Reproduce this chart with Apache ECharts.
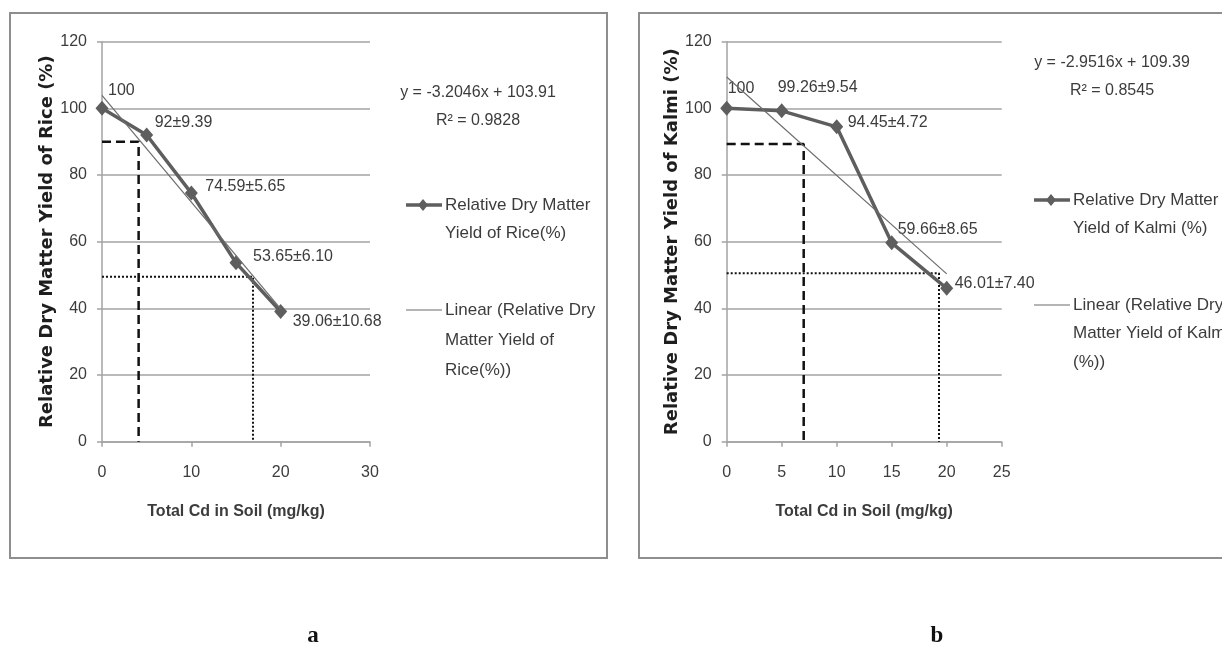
<!DOCTYPE html>
<html>
<head>
<meta charset="utf-8">
<script src="https://cdn.jsdelivr.net/npm/echarts@6/dist/echarts.min.js"></script>
<style>
  html, body { margin: 0; padding: 0; background: #ffffff; }
  #chart { width: 1222px; height: 652px; }
</style>
</head>
<body>
<div id="chart"></div>
<script>
// Total Cd added to soil (mg/kg)
const cdLevels = [0, 5, 10, 15, 20];

// Relative dry matter yield (%) and its standard deviation
const riceYield = [100, 92, 74.59, 53.65, 39.06];
const riceSD = ['', '9.39', '5.65', '6.10', '10.68'];
const kalmiYield = [100, 99.26, 94.45, 59.66, 46.01];
const kalmiSD = ['', '9.54', '4.72', '8.65', '7.40'];

// Linear trend: [slope, intercept, R²]
const riceTrend = [-3.2046, 103.91, 0.9828];
const kalmiTrend = [-2.9516, 109.39, 0.8545];

// Guide lines marking the Cd level at ~90 % and ~50 % yield: [Cd, yield]
const riceDashed = [4.1, 90];
const riceDotted = [16.9, 49.5];
const kalmiDashed = [7, 89.3];
const kalmiDotted = [19.3, 50.5];

// Axis ticks
const yTicks = [0, 20, 40, 60, 80, 100, 120];
const riceXTicks = [0, 10, 20, 30];
const kalmiXTicks = [0, 5, 10, 15, 20, 25];

// Legend / title texts
const riceLegend = ['Relative Dry Matter', 'Yield of Rice(%)'];
const riceTrendLegend = ['Linear (Relative Dry', 'Matter Yield of', 'Rice(%))'];
const kalmiLegend = ['Relative Dry Matter', 'Yield of Kalmi (%)'];
const kalmiTrendLegend = ['Linear (Relative Dry', 'Matter Yield of Kalmi', '(%))'];
const riceYTitle = 'Relative Dry Matter Yield of Rice (%)';
const kalmiYTitle = 'Relative Dry Matter Yield of Kalmi (%)';
const xTitle = 'Total Cd in Soil (mg/kg)';
const panelLetters = ['a', 'b'];

// ---------- layout & style ----------
const SANS = '"Liberation Sans", Arial, sans-serif';
const TEXT = '#3c3c3c';
const LINE = '#5e5e5e';
const GRID_LINE = '#a3a3a3';

// label offsets from each marker centre [dx, dy]
const riceLabelOffsets = [[6, -18], [8, -12], [14, -6], [17, -6], [12, 10]];
const kalmiLabelOffsets = [[1, -20], [-4, -23], [11, -4], [6, -13], [8, -5]];

function fmtLabel(v, sd) {
  return sd ? String(v) + '±' + sd : String(v);
}

function xAxisFor(ticks, gridIndex) {
  return {
    type: 'value', gridIndex,
    min: ticks[0], max: ticks[ticks.length - 1], interval: ticks[1] - ticks[0],
    name: xTitle, nameLocation: 'middle', nameGap: 62,
    nameTextStyle: { fontFamily: SANS, fontWeight: 'bold', fontSize: 16, color: TEXT },
    axisLine: { show: true, lineStyle: { color: GRID_LINE, width: 1.5 } },
    axisTick: { show: true, length: 5, lineStyle: { color: GRID_LINE, width: 1.5 } },
    axisLabel: { fontFamily: SANS, fontSize: 16, color: TEXT, margin: 23 },
    splitLine: { show: false }
  };
}

function yAxisFor(title, gridIndex, gap) {
  return {
    type: 'value', gridIndex,
    min: yTicks[0], max: yTicks[yTicks.length - 1], interval: yTicks[1] - yTicks[0],
    name: title, nameLocation: 'middle', nameGap: gap,
    nameTextStyle: { fontFamily: '"DejaVu Sans", sans-serif', fontWeight: 'bold', fontSize: 18, color: '#1e1e1e' },
    axisLine: { show: true, lineStyle: { color: GRID_LINE, width: 1.5 } },
    axisTick: { show: true, length: 5, lineStyle: { color: GRID_LINE, width: 1.5 } },
    axisLabel: { fontFamily: SANS, fontSize: 16, color: TEXT, margin: 15 },
    splitLine: { show: true, lineStyle: { color: GRID_LINE, width: 1.5 } }
  };
}

function yieldSeries(values, sds, offsets, idx) {
  return {
    type: 'line', xAxisIndex: idx, yAxisIndex: idx, z: 5,
    data: cdLevels.map((x, i) => ({
      value: [x, values[i]],
      label: { offset: offsets[i] }
    })),
    symbol: 'diamond', symbolSize: [13, 15],
    lineStyle: { color: LINE, width: 3.5 },
    itemStyle: { color: LINE },
    label: {
      show: true, position: 'inside', align: 'left', verticalAlign: 'middle',
      fontFamily: SANS, fontSize: 16, color: TEXT,
      formatter: p => fmtLabel(values[p.dataIndex], sds[p.dataIndex])
    },
    animation: false
  };
}

function trendSeries(coef, idx) {
  const x0 = cdLevels[0], x1 = cdLevels[cdLevels.length - 1];
  return {
    type: 'line', xAxisIndex: idx, yAxisIndex: idx, z: 6,
    data: [[x0, coef[0] * x0 + coef[1]], [x1, coef[0] * x1 + coef[1]]],
    symbol: 'none',
    lineStyle: { color: '#6c6c6c', width: 1.2 },
    animation: false
  };
}

function guideSeries(pt, idx, dashType, width) {
  return {
    type: 'line', xAxisIndex: idx, yAxisIndex: idx, z: 4,
    data: [[0, pt[1]], [pt[0], pt[1]], [pt[0], 0]],
    symbol: 'none',
    lineStyle: { color: '#111111', width, type: dashType },
    animation: false
  };
}

function textEl(text, x, y, size, style) {
  return {
    type: 'text', silent: true,
    style: Object.assign({
      text, x, y, fill: TEXT,
      font: size + 'px ' + SANS,
      align: 'left', verticalAlign: 'middle'
    }, style || {})
  };
}

function legendEls(x, y, lines, withMarker, lineH) {
  const els = [];
  els.push({
    type: 'line', silent: true,
    shape: { x1: x, y1: y, x2: x + 36, y2: y },
    style: { stroke: withMarker ? LINE : '#6c6c6c', lineWidth: withMarker ? 3.5 : 1.2 }
  });
  if (withMarker) {
    const cx = x + 17;
    els.push({
      type: 'polygon', silent: true,
      shape: { points: [[cx, y - 6], [cx + 5, y], [cx, y + 6], [cx - 5, y]] },
      style: { fill: LINE }
    });
  }
  lines.forEach((t, i) => els.push(textEl(t, x + 39, y + i * lineH, 17)));
  return els;
}

function equationEls(coef, cx, y) {
  const eq = 'y = ' + coef[0] + 'x + ' + coef[1];
  const r2 = 'R² = ' + coef[2];
  return [
    textEl(eq, cx, y, 16, { align: 'center' }),
    textEl(r2, cx, y + 28, 16, { align: 'center' })
  ];
}

const letterFont = 'bold 23px "Liberation Serif", serif';

const graphics = [
  { type: 'rect', silent: true, shape: { x: 10, y: 13, width: 597, height: 545 },
    style: { fill: 'none', stroke: '#8e8e8e', lineWidth: 2 } },
  { type: 'rect', silent: true, shape: { x: 639, y: 13, width: 600, height: 545 },
    style: { fill: 'none', stroke: '#8e8e8e', lineWidth: 2 } },
  ...equationEls(riceTrend, 478, 93),
  ...equationEls(kalmiTrend, 1112, 63),
  ...legendEls(406, 205, riceLegend, true, 28),
  ...legendEls(406, 310, riceTrendLegend, false, 30),
  ...legendEls(1034, 200, kalmiLegend, true, 28),
  ...legendEls(1034, 305, kalmiTrendLegend, false, 28.5),
  textEl(panelLetters[0], 313, 636, 23, { align: 'center', fill: '#111', font: letterFont }),
  textEl(panelLetters[1], 937, 636, 23, { align: 'center', fill: '#111', font: letterFont })
];

const option = {
  backgroundColor: '#ffffff',
  animation: false,
  grid: [
    { left: 102, top: 41.7, width: 268, height: 400 },
    { left: 726.7, top: 41.7, width: 275, height: 400 }
  ],
  xAxis: [xAxisFor(riceXTicks, 0), xAxisFor(kalmiXTicks, 1)],
  yAxis: [yAxisFor(riceYTitle, 0, 44), yAxisFor(kalmiYTitle, 1, 32)],
  series: [
    guideSeries(riceDashed, 0, [9, 5], 2.5),
    guideSeries(riceDotted, 0, [2, 2], 2),
    yieldSeries(riceYield, riceSD, riceLabelOffsets, 0),
    trendSeries(riceTrend, 0),
    guideSeries(kalmiDashed, 1, [9, 5], 2.5),
    guideSeries(kalmiDotted, 1, [2, 2], 2),
    yieldSeries(kalmiYield, kalmiSD, kalmiLabelOffsets, 1),
    trendSeries(kalmiTrend, 1)
  ],
  graphic: graphics
};

const chart = echarts.init(document.getElementById('chart'), null, { renderer: 'canvas' });
chart.setOption(option);
</script>
</body>
</html>
